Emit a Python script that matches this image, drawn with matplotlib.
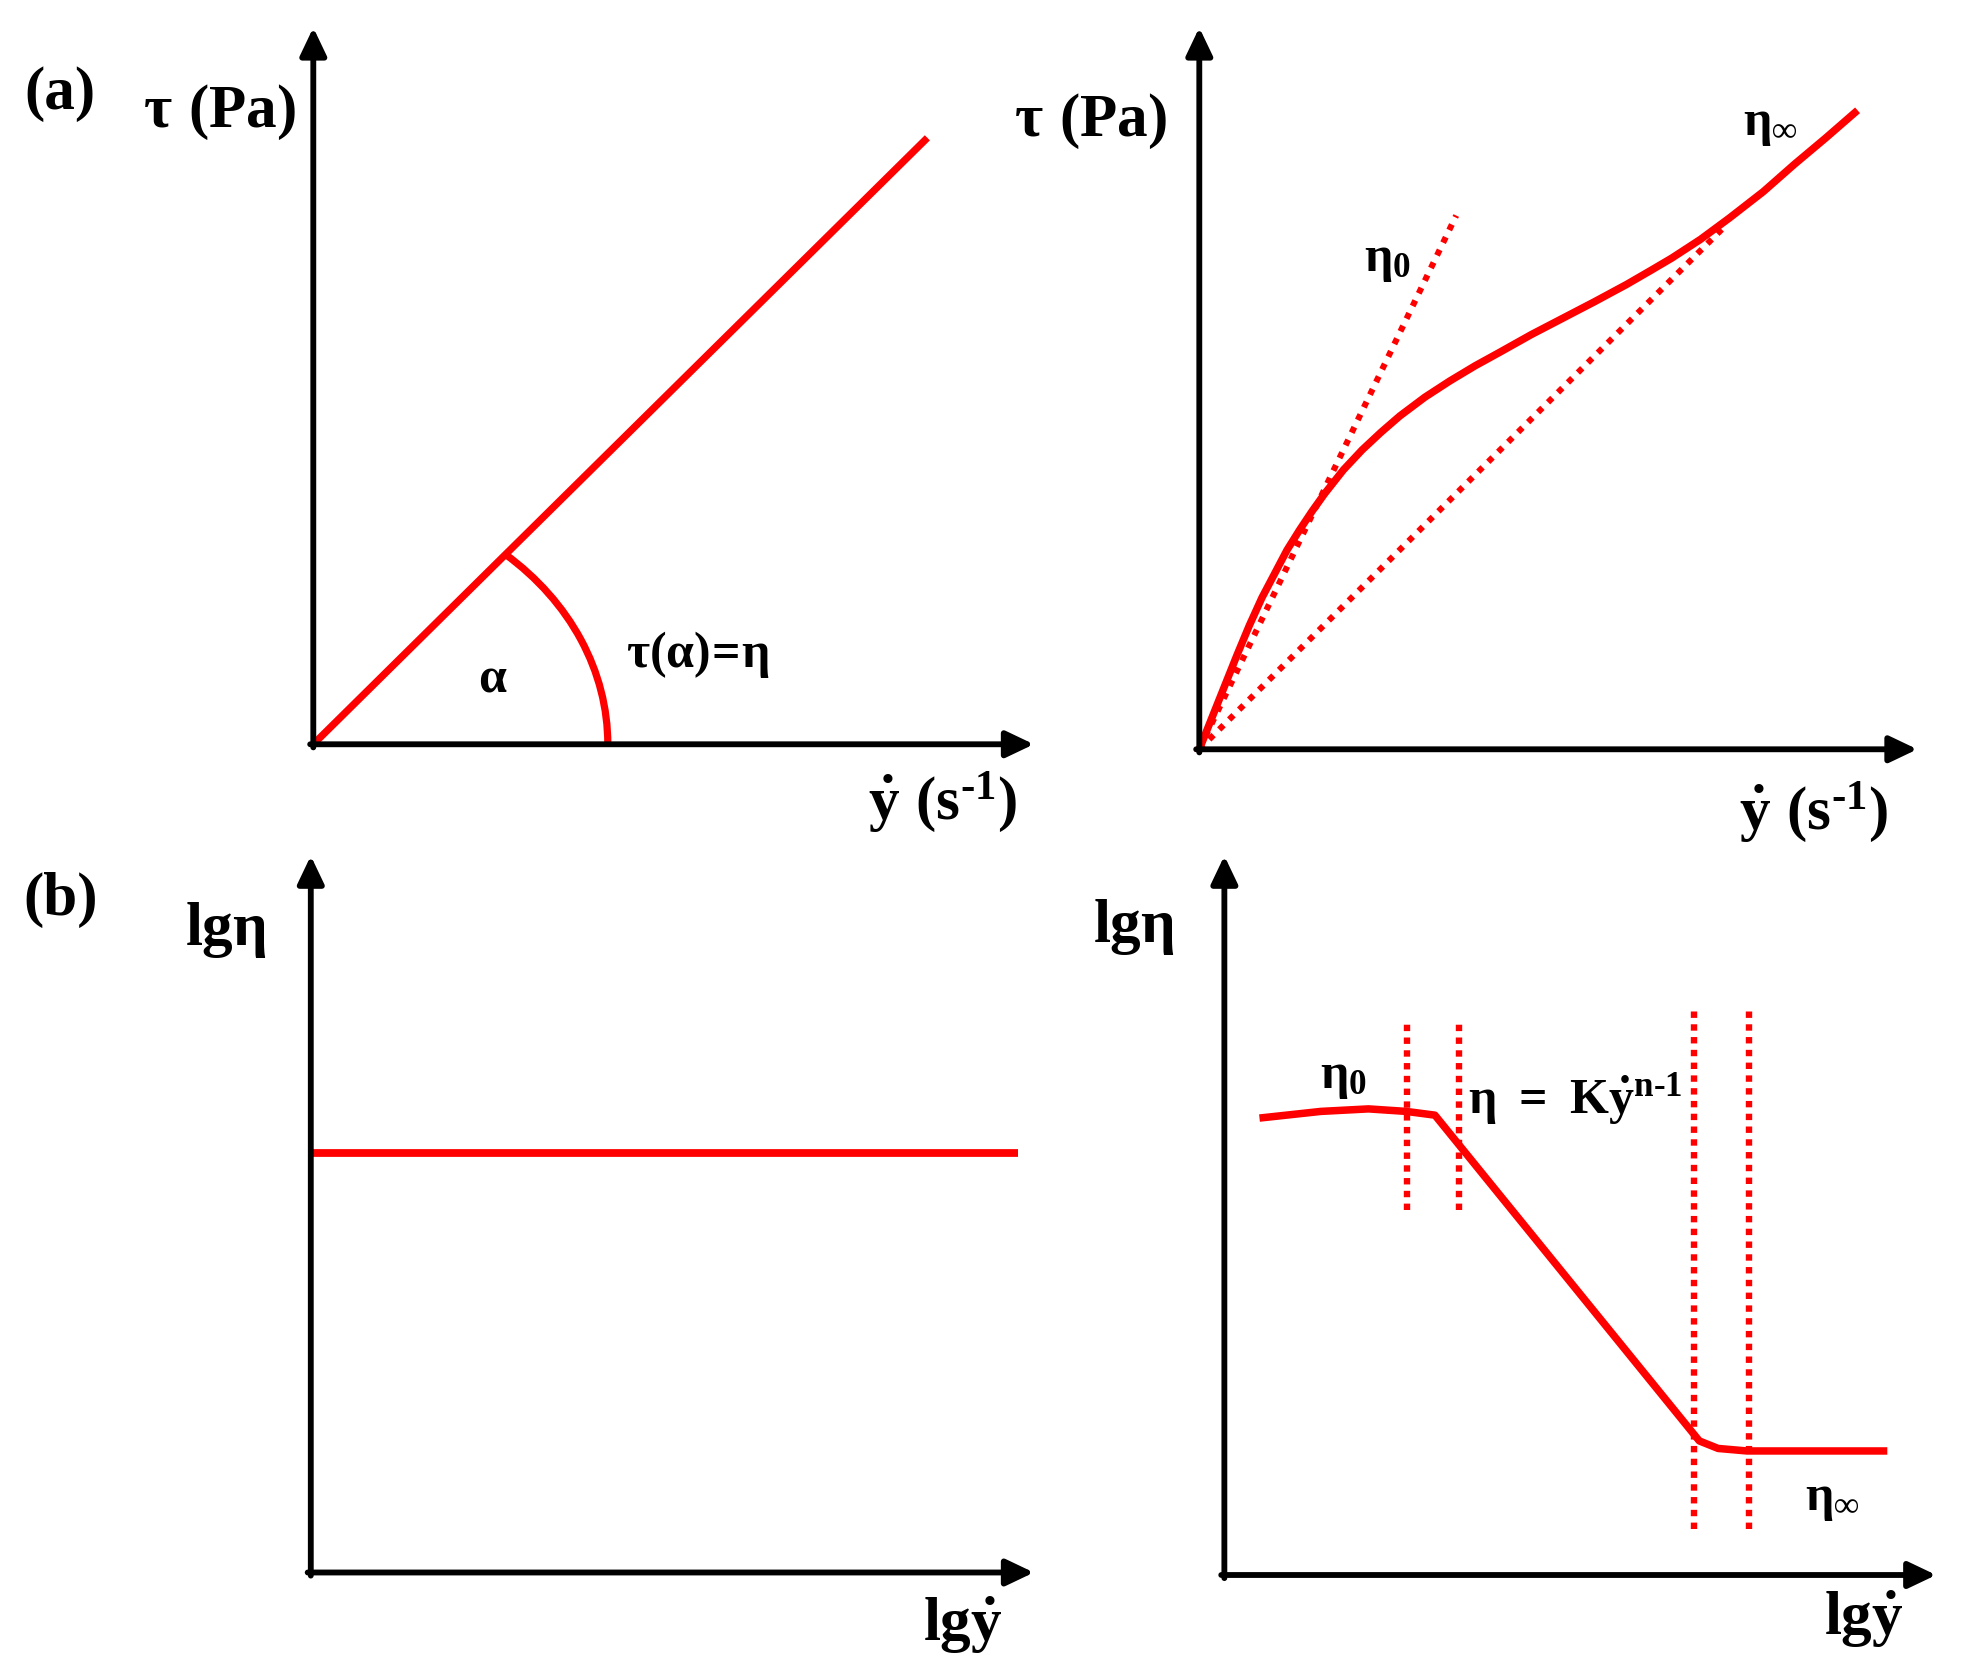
import matplotlib
matplotlib.use("Agg")
import matplotlib.pyplot as plt
from matplotlib.patches import Arc

plt.rcParams['font.family'] = ['Liberation Serif', 'DejaVu Serif']
plt.rcParams['font.weight'] = 'bold'
plt.rcParams['mathtext.fontset'] = 'custom'
plt.rcParams['mathtext.rm'] = 'Liberation Serif:bold'
plt.rcParams['mathtext.it'] = 'Liberation Serif:bold'
plt.rcParams['mathtext.bf'] = 'Liberation Serif:bold'
plt.rcParams['mathtext.default'] = 'rm'

# reference layout is read in a 1568 x 1340 frame
REF_W, REF_H = 1568, 1340

# panel origin (x, y) and axis lengths (w, h), reference pixels
panels = {
    'a_left': (250, 594, 575, 572),
    'a_right': (957, 598, 573, 576),
    'b_left': (248, 1255, 577, 572),
    'b_right': (977, 1257, 568, 574),
}

# (a) left: Newtonian, tau vs shear rate
newt_x = [0, 490]
newt_y = [0, 484]
arc_w, arc_h, arc_angle = 470, 400, 44.7

# (a) right: shear thinning flow curve
flow_x = [0, 10, 20, 30, 40, 50, 60, 70, 80, 90, 100, 115, 130, 145, 160, 180,
          200, 220, 240, 265, 290, 315, 341, 360, 377, 400, 423, 450, 475, 500, 523]
flow_y = [0, 25, 50, 75, 99, 121, 140, 159, 175, 190, 204, 223, 239, 253, 266, 281,
          294, 306, 317, 331, 344, 357, 371, 382, 392, 407, 424, 445, 467, 488, 508]
eta0_x = [0, 205]
eta0_y = [0, 426]
etainf_x = [0, 418]
etainf_y = [0, 416]

# (b) left: constant viscosity
const_x = [0, 564]
const_y = [335, 335]

# (b) right: viscosity curve
visc_x = [31, 77, 115, 145, 168, 379, 394, 417, 526]
visc_y = [365, 370, 372, 370, 367, 107, 101, 99, 99]
vline_x = [146, 187, 375, 419]
vline_y0 = [291, 291, 37, 37]
vline_y1 = [444, 444, 450, 450]

RED = '#ff0000'
fig = plt.figure(figsize=(19.65, 16.79), dpi=100)


def make_panel(key):
    x0, y0, w, h = panels[key]
    ax = fig.add_axes([x0 / REF_W, 1 - y0 / REF_H, w / REF_W, h / REF_H])
    ax.set_xlim(0, w)
    ax.set_ylim(0, h)
    ax.axis('off')
    ap = dict(arrowstyle='-|>,head_length=0.42,head_width=0.2', mutation_scale=40,
              lw=4.2, color='black', shrinkA=0, shrinkB=0)
    ax.annotate('', xy=(w, 0), xytext=(-2.5, 0), arrowprops=ap, annotation_clip=False)
    ax.annotate('', xy=(0, h), xytext=(0, -2.5), arrowprops=ap, annotation_clip=False)
    return ax


def label(x, y, s, size):
    fig.text(x / REF_W, 1 - y / REF_H, s, ha='center', va='center',
             fontsize=size, fontweight='bold')


dots = (0, (1.0, 1.3))

ax = make_panel('a_left')
ax.plot(newt_x, newt_y, color=RED, lw=5.2, solid_capstyle='butt', clip_on=False)
ax.add_patch(Arc((0, 0), arc_w, arc_h, theta1=0, theta2=arc_angle,
                 color=RED, lw=5.2))

ax = make_panel('a_right')
ax.plot(eta0_x, eta0_y, color=RED, lw=4.4, ls=dots, clip_on=False)
ax.plot(etainf_x, etainf_y, color=RED, lw=4.4, ls=dots, clip_on=False)
ax.plot(flow_x, flow_y, color=RED, lw=5.4, solid_joinstyle='round', clip_on=False)

ax = make_panel('b_left')
ax.plot(const_x, const_y, color=RED, lw=5.6, solid_capstyle='butt', clip_on=False)

ax = make_panel('b_right')
for xv, ya, yb in zip(vline_x, vline_y0, vline_y1):
    ax.plot([xv, xv], [ya, yb], color=RED, lw=4.6, ls=(0, (1.0, 1.0)), clip_on=False)
ax.plot(visc_x, visc_y, color=RED, lw=5.4, solid_joinstyle='round', clip_on=False)

big = 44
small = 36
label(48, 75, '(a)', big)
label(175, 90, r'$\tau\ (\mathrm{Pa})$', big)
label(393, 542, r'$\alpha$', small)
label(557, 522, r'$\tau(\alpha)\!=\!\eta$', small)
label(752, 640, r'$\dot{\mathrm{y}}\ (\mathrm{s}^{\text{-1}})$', big)
label(870, 97, r'$\tau\ (\mathrm{Pa})$', big)
label(1107, 208, r'$\eta_0$', small)
label(1413, 100, r'$\eta_{\infty}$', small)
label(1447, 648, r'$\dot{\mathrm{y}}\ (\mathrm{s}^{\text{-1}})$', big)
label(48, 718, '(b)', big)
label(180, 742, r'$\mathrm{lg}\eta$', big)
label(768, 1297, r'$\mathrm{lg}\dot{\mathrm{y}}$', big)
label(905, 740, r'$\mathrm{lg}\eta$', big)
label(1072, 860, r'$\eta_0$', small)
label(1257, 877, r'$\eta\ =\ \mathrm{K}\dot{\mathrm{y}}^{\text{n-1}}$', small)
label(1462, 1197, r'$\eta_{\infty}$', small)
label(1487, 1292, r'$\mathrm{lg}\dot{\mathrm{y}}$', big)

fig.savefig('out.png', dpi=100, facecolor='white')
